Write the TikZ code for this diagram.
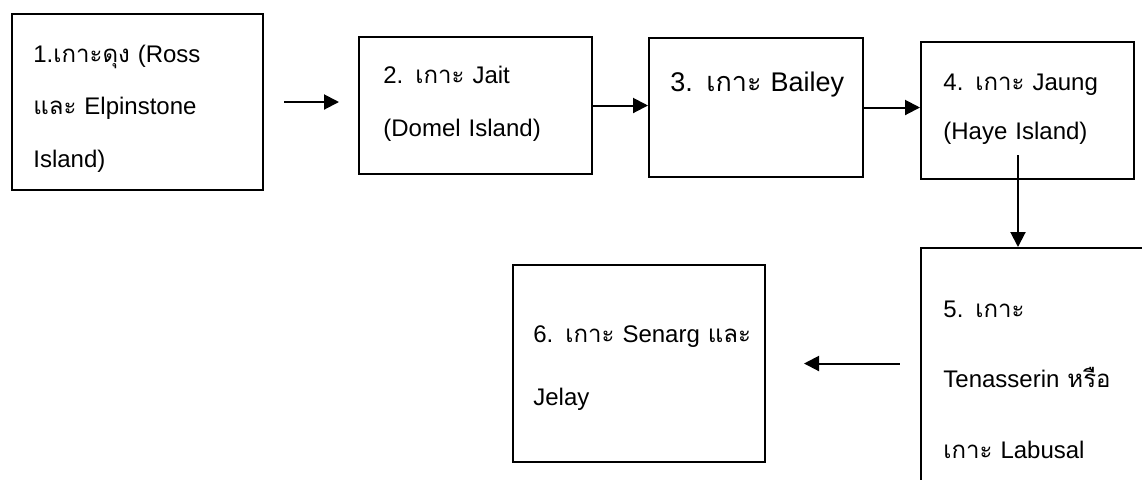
\documentclass[tikz,border=0pt]{standalone}
\usepackage{fontspec}
\setmainfont{Liberation Sans}
\newfontfamily\thaifont[Script=Thai]{Loma}
\usetikzlibrary{arrows.meta}
\newcommand{\thw}[1]{{\thaifont #1}}
\tikzset{
  island/.style={draw, line width=1pt, inner sep=0pt},
  isltext/.style={anchor=base west, inner sep=0pt, text width=#1, align=left},
  hop/.style={line width=1pt}
}

\begin{document}
\begin{tikzpicture} [x=0.5pt,y=-0.5pt,>={Triangle[length=7.5pt,width=7.5pt]},
    font=\fontsize{12}{26.25}\selectfont]
\useasboundingbox (0,0) rectangle (1142,479);
\clip (0,0) rectangle (1142,479);
% the six islands
\node[island, minimum width=125.5pt, minimum height=88pt] (b1) at (137.5,102) {};
\node[island, minimum width=116.5pt, minimum height=68.5pt] (b2) at (475.5,105.5) {};
\node[island, minimum width=107pt, minimum height=69.5pt] (b3) at (756,107.5) {};
\node[island, minimum width=106.5pt, minimum height=68.5pt] (b4) at (1027.5,110.5) {};
\node[island, minimum width=119.5pt, minimum height=136pt] (b5) at (1040.5,384) {};
\node[island, minimum width=126pt, minimum height=98.5pt] (b6) at (639,363.5) {};
% their names
\node[isltext=120pt] (t1) at (33,62) {1.\thw{เกาะดุง} (Ross\\ \thw{และ} Elpinstone\\ Island)};
\node[isltext=110pt, font=\fontsize{12}{26.8}\selectfont] (t2) at (383,83)
    {2. \thw{เกาะ} Jait\\ (Domel Island)};
\node[isltext=100pt, font=\fontsize{13.5}{16}\selectfont] (t3) at (670,91)
    {3. \thw{เกาะ} Bailey};
\node[isltext=100pt, font=\fontsize{12}{24.5}\selectfont] (t4) at (943,90)
    {4. \thw{เกาะ} Jaung\\ (Haye Island)};
\node[isltext=100pt, font=\fontsize{12}{35.25}\selectfont] (t5) at (943,317)
    {5. \thw{เกาะ}\\ Tenasserin \thw{หรือ}\\ \thw{เกาะ} Labusal};
\node[isltext=120pt, font=\fontsize{12}{31.5}\selectfont] (t6) at (533,342)
    {6. \thw{เกาะ} Senarg \thw{และ}\\ Jelay};
% the route
\coordinate (a4) at (1018,155);
\draw[hop,->, shorten <=10pt, shorten >=9.5pt] (b1.east) -- (b1.east -| b2.west);
\draw[hop,->] (b2.east) -- (b2.east -| b3.west);
\draw[hop,->] (b3.east) -- (b3.east -| b4.west);
\draw[hop,->] (a4) -- (a4 |- b5.north);
\draw[hop,<-, shorten <=19pt, shorten >=10pt] (b6.east) -- (b6.east -| b5.west);
\end{tikzpicture}
\end{document}
